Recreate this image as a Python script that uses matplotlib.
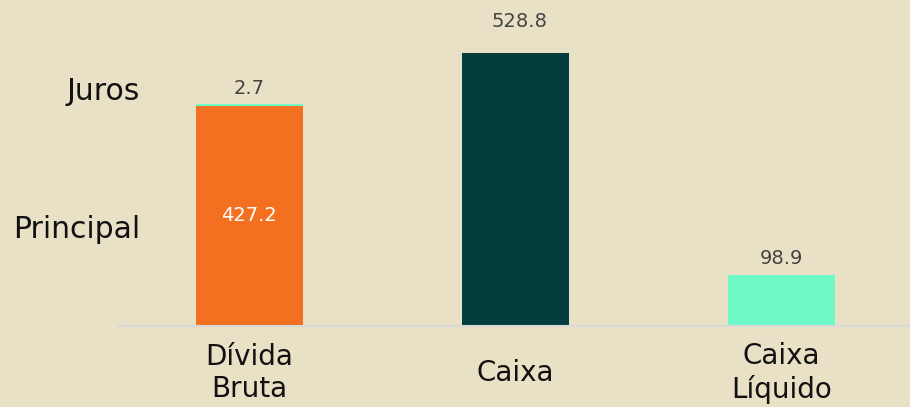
import matplotlib.pyplot as plt

# data
categories = ['Dívida\nBruta', 'Caixa', 'Caixa\nLíquido']
principal = [427.2, 528.8, 98.9]
juros = [2.7, 0, 0]
bar_colors = ['#F37021', '#033D3E', '#6EF9C6']
juros_color = '#6EF9C6'
bg = '#E9E1C6'

fig = plt.figure(figsize=(9.1, 4.07), dpi=100, facecolor=bg)
ax = fig.add_axes([118 / 910, 81 / 407, 1 - 118 / 910, 326 / 407])
ax.set_facecolor(bg)

x = range(len(categories))
ax.bar(x, principal, width=0.4, color=bar_colors)
ax.bar(0, juros[0], bottom=principal[0], width=0.4, color=juros_color)

ax.set_xlim(-0.494, 2.483)
ax.set_ylim(0, 632)

# value labels
ax.text(0, principal[0] / 2, f'{principal[0]:.1f}', color='white',
        ha='center', va='center', fontsize=14)
ax.annotate(f'{juros[0]:.1f}', (0, principal[0] + juros[0]), xytext=(0, 11),
            textcoords='offset points', ha='center', va='center',
            fontsize=14, color='#444444')
ax.annotate(f'{principal[1]:.1f}', (1, principal[1]), xytext=(3, 23),
            textcoords='offset points', ha='center', va='center',
            fontsize=14, color='#444444')
ax.annotate(f'{principal[2]:.1f}', (2, principal[2]), xytext=(0, 12),
            textcoords='offset points', ha='center', va='center',
            fontsize=14, color='#444444')

# legend-like labels on the left
fig.text(103 / 910, 1 - 91 / 407, 'Juros', ha='center', va='center',
         fontsize=21.5, color='#111111')
fig.text(77 / 910, 1 - 230 / 407, 'Principal', ha='center', va='center',
         fontsize=21.5, color='#111111')

ax.set_xticks(list(x))
ax.set_xticklabels(categories, fontsize=20, color='#111111')
for lbl in ax.get_xticklabels():
    lbl.set_va('center')
ax.tick_params(axis='x', length=0, pad=34)
ax.set_yticks([])

for s in ['top', 'right', 'left']:
    ax.spines[s].set_visible(False)
ax.spines['bottom'].set_color('#D9D9D9')
ax.spines['bottom'].set_linewidth(1.5)

fig.savefig('out.png', dpi=100, facecolor=bg)
